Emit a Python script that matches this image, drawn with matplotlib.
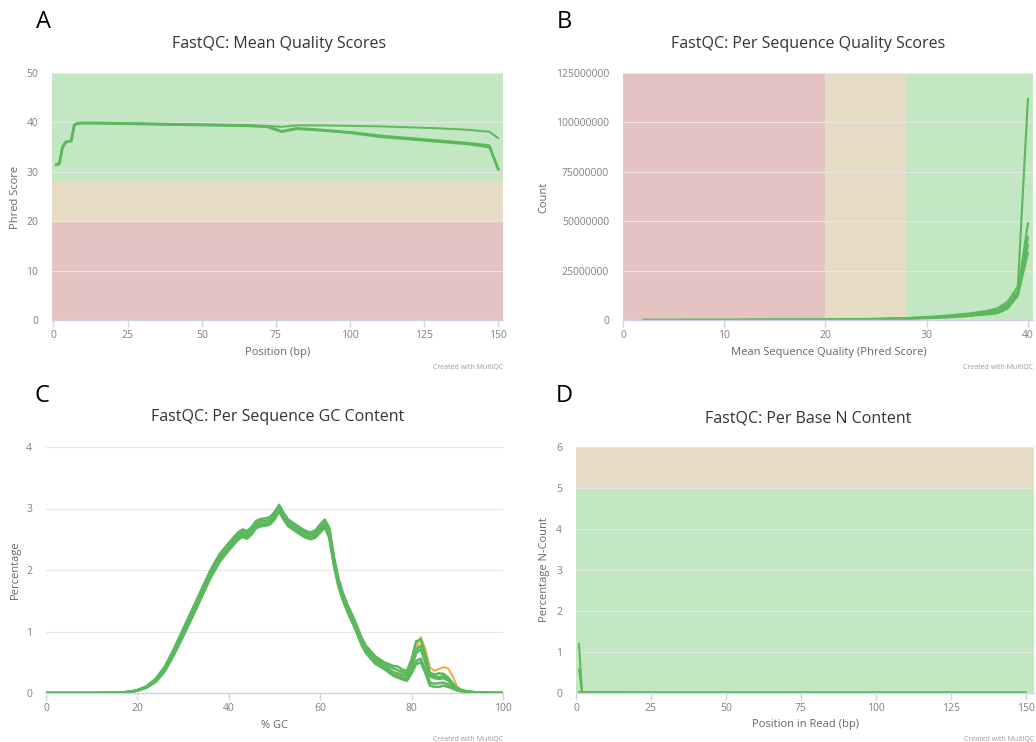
import matplotlib
matplotlib.use("Agg")
import matplotlib.pyplot as plt

plt.rcParams['font.family'] = ['Open Sans', 'DejaVu Sans']

W, H = 1036, 742

# status colours used by MultiQC
GREEN_BAND = '#c3e6c3'
AMBER_BAND = '#e6dcc3'
RED_BAND = '#e6c3c3'
PASS = '#5cb85c'
WARN = '#f0ad4e'

# A: mean quality per position
qpos = [1, 2, 3, 4, 5, 6, 7, 8, 9, 10, 15, 25, 35, 45, 55, 65, 72, 77, 82, 90, 100, 110, 120, 130, 140, 147, 150]
qual_r1a = [31.5, 31.7, 35.0, 36.0, 36.2, 36.3, 39.5, 39.8, 39.9, 39.9, 39.9, 39.8, 39.7, 39.6, 39.5, 39.4, 39.2, 38.2, 38.8, 38.5, 38.0, 37.3, 36.8, 36.3, 35.8, 35.3, 30.5]
qual_r1b = [31.4, 31.6, 34.8, 35.9, 36.1, 36.2, 39.4, 39.7, 39.8, 39.8, 39.8, 39.7, 39.6, 39.5, 39.4, 39.3, 39.1, 38.1, 38.7, 38.4, 37.9, 37.1, 36.6, 36.1, 35.6, 35.0, 30.6]
qual_r2 = [31.5, 31.7, 35.0, 36.0, 36.2, 36.3, 39.5, 39.8, 39.9, 39.9, 39.9, 39.8, 39.7, 39.6, 39.5, 39.4, 39.3, 39.1, 39.4, 39.4, 39.3, 39.2, 39.0, 38.8, 38.5, 38.1, 36.8]

# B: per sequence quality (counts)
sq = [2, 10, 20, 25, 28, 30, 32, 34, 35, 36, 37, 38, 39, 40]
seq_counts = [
    [2e4, 5e4, 2e5, 6e5, 1.0e6, 1.5e6, 2.2e6, 3.2e6, 3.9e6, 4.7e6, 5.9e6, 9.3e6, 16.9e6, 112e6],
    [2e4, 5e4, 2e5, 5e5, 0.9e6, 1.3e6, 1.9e6, 2.8e6, 3.4e6, 4.1e6, 5.2e6, 8.2e6, 14.5e6, 49e6],
    [2e4, 5e4, 2e5, 4.5e5, 0.8e6, 1.2e6, 1.7e6, 2.5e6, 3.0e6, 3.6e6, 4.5e6, 7.2e6, 13.5e6, 42e6],
    [2e4, 4e4, 1.8e5, 4e5, 0.7e6, 1.1e6, 1.5e6, 2.2e6, 2.7e6, 3.2e6, 4.0e6, 6.4e6, 12.8e6, 38e6],
    [2e4, 4e4, 1.6e5, 3.5e5, 0.6e6, 0.9e6, 1.3e6, 1.9e6, 2.4e6, 2.8e6, 3.4e6, 5.8e6, 12.2e6, 34e6],
]

# C: per sequence GC content
gc = [0, 5, 10, 15, 17, 19, 20, 22, 24, 26, 28, 30, 32, 34, 36, 38, 40, 42, 43, 44, 45, 46, 47, 48, 49, 50,
      51, 52, 53, 54, 55, 56, 57, 58, 59, 60, 61, 62, 63, 64, 65, 66, 67, 68, 69, 70, 72, 74,
      76, 77, 78, 79, 80, 81, 82, 83, 84, 85, 86, 87, 88, 89, 90, 91, 92, 94, 96, 100]
gc_warn = [0, 0, 0, 0.002, 0.008, 0.026, 0.04, 0.088, 0.19, 0.37, 0.64, 0.95, 1.26, 1.58, 1.9, 2.16, 2.35, 2.52, 2.57, 2.54, 2.61, 2.71, 2.74, 2.75, 2.77, 2.85,
           2.98, 2.85, 2.74, 2.69, 2.64, 2.59, 2.55, 2.53, 2.57, 2.65, 2.72, 2.56, 2.11, 1.77, 1.54, 1.35, 1.19, 1.02, 0.83, 0.69, 0.52, 0.43,
           0.33, 0.33, 0.31, 0.3, 0.42, 0.72, 0.91, 0.72, 0.42, 0.36, 0.39, 0.42, 0.4, 0.27, 0.1, 0.05, 0.03, 0.01, 0.004, 0]
gc_pass = [
    [0, 0, 0, 0.003, 0.01, 0.03, 0.048, 0.11, 0.23, 0.43, 0.72, 1.04, 1.36, 1.68, 2.0, 2.26, 2.44, 2.61, 2.66, 2.63, 2.7, 2.8, 2.83, 2.84, 2.86, 2.94,
     3.06, 2.93, 2.82, 2.77, 2.72, 2.67, 2.63, 2.61, 2.65, 2.74, 2.82, 2.68, 2.22, 1.86, 1.62, 1.43, 1.27, 1.1, 0.91, 0.77, 0.6, 0.5,
     0.44, 0.43, 0.38, 0.36, 0.55, 0.84, 0.87, 0.62, 0.33, 0.3, 0.32, 0.31, 0.25, 0.16, 0.08, 0.045, 0.028, 0.012, 0.005, 0],
    [0, 0, 0, 0.003, 0.01, 0.03, 0.046, 0.1, 0.22, 0.41, 0.69, 1.0, 1.32, 1.64, 1.96, 2.22, 2.4, 2.57, 2.62, 2.59, 2.66, 2.76, 2.79, 2.8, 2.82, 2.9,
     3.03, 2.9, 2.79, 2.74, 2.69, 2.64, 2.6, 2.58, 2.62, 2.7, 2.78, 2.63, 2.18, 1.82, 1.59, 1.4, 1.24, 1.07, 0.88, 0.74, 0.57, 0.47,
     0.4, 0.37, 0.34, 0.32, 0.46, 0.7, 0.77, 0.56, 0.3, 0.27, 0.26, 0.27, 0.22, 0.14, 0.07, 0.04, 0.025, 0.01, 0.004, 0],
    [0, 0, 0, 0.003, 0.01, 0.028, 0.043, 0.095, 0.2, 0.39, 0.66, 0.97, 1.28, 1.6, 1.92, 2.17, 2.36, 2.53, 2.58, 2.55, 2.62, 2.72, 2.75, 2.76, 2.78, 2.86,
     3.0, 2.86, 2.75, 2.7, 2.65, 2.6, 2.56, 2.54, 2.58, 2.66, 2.74, 2.57, 2.12, 1.78, 1.55, 1.36, 1.2, 1.03, 0.84, 0.7, 0.53, 0.44,
     0.34, 0.31, 0.29, 0.28, 0.42, 0.65, 0.71, 0.5, 0.27, 0.24, 0.23, 0.24, 0.2, 0.13, 0.06, 0.035, 0.022, 0.009, 0.004, 0],
    [0, 0, 0, 0.002, 0.008, 0.026, 0.04, 0.09, 0.19, 0.37, 0.64, 0.94, 1.25, 1.57, 1.89, 2.15, 2.34, 2.51, 2.56, 2.53, 2.6, 2.7, 2.73, 2.74, 2.76, 2.84,
     2.97, 2.84, 2.73, 2.68, 2.63, 2.58, 2.54, 2.52, 2.55, 2.63, 2.71, 2.54, 2.09, 1.75, 1.52, 1.33, 1.17, 1.0, 0.81, 0.67, 0.5, 0.41,
     0.3, 0.27, 0.25, 0.23, 0.36, 0.52, 0.56, 0.38, 0.17, 0.15, 0.16, 0.17, 0.14, 0.09, 0.05, 0.03, 0.02, 0.008, 0.003, 0],
    [0, 0, 0, 0.002, 0.008, 0.025, 0.038, 0.085, 0.18, 0.35, 0.62, 0.92, 1.23, 1.55, 1.87, 2.13, 2.32, 2.49, 2.54, 2.51, 2.58, 2.68, 2.71, 2.72, 2.74, 2.82,
     2.95, 2.82, 2.71, 2.66, 2.61, 2.56, 2.52, 2.5, 2.53, 2.61, 2.69, 2.52, 2.07, 1.73, 1.5, 1.31, 1.15, 0.98, 0.79, 0.65, 0.48, 0.39,
     0.28, 0.25, 0.22, 0.2, 0.32, 0.47, 0.5, 0.33, 0.12, 0.1, 0.1, 0.12, 0.1, 0.07, 0.04, 0.025, 0.018, 0.007, 0.003, 0],
]

# D: per base N content
npos = [1, 2, 3, 4, 5, 10, 25, 50, 75, 100, 125, 150]
n_hi = [1.2, 0.03, 0.02, 0.02, 0.02, 0.02, 0.01, 0.01, 0.01, 0.01, 0.01, 0.01]
n_lo = [0.57, 0.03, 0.02, 0.02, 0.02, 0.02, 0.01, 0.01, 0.01, 0.01, 0.01, 0.01]
n_flat = [0.02, 0.02, 0.02, 0.01, 0.01, 0.01, 0.01, 0.01, 0.01, 0.01, 0.01, 0.01]

fig = plt.figure(figsize=(W / 100, H / 100), dpi=100)


def px_axes(x0, y0, x1, y1):
    return fig.add_axes([x0 / W, 1 - y1 / H, (x1 - x0) / W, (y1 - y0) / H])


def px_text(x, y, s, **kw):
    fig.text(x / W, 1 - y / H, s, **kw)


def style(ax, xticks, yticks):
    for s in ['top', 'right', 'left']:
        ax.spines[s].set_visible(False)
    ax.spines['bottom'].set_color('#ccd6eb')
    ax.spines['bottom'].set_linewidth(1)
    ax.set_xticks(xticks)
    ax.set_yticks(yticks)
    ax.tick_params(axis='x', length=5, width=1, color='#ccd6eb', labelsize=7.5, labelcolor='#808080', pad=2)
    ax.tick_params(axis='y', length=0, labelsize=7.5, labelcolor='#808080', pad=10)
    ax.grid(axis='y', color='#e6e6e6', linewidth=0.8)
    ax.set_axisbelow(True)
    ax.set_facecolor('white')


def labels(letter, lx, ly, title, tx, ty, xlab, xx, xy, ylab, yx, yy, credit_x, credit_y):
    px_text(lx, ly, letter, fontsize=17, color='black', ha='center', va='center')
    px_text(tx, ty, title, fontsize=11.5, color='#333333', ha='center', va='center')
    px_text(xx, xy, xlab, fontsize=8, color='#666666', ha='center', va='center')
    px_text(yx, yy, ylab, fontsize=8, color='#666666', ha='center', va='center', rotation=90)
    px_text(credit_x, credit_y, 'Created with MultiQC', fontsize=5, color='#999999', ha='right', va='center')


# A
ax = px_axes(52, 73, 503, 320)
ax.axhspan(28, 50, color=GREEN_BAND, zorder=0, lw=0)
ax.axhspan(20, 28, color=AMBER_BAND, zorder=0, lw=0)
ax.axhspan(0, 20, color=RED_BAND, zorder=0, lw=0)
ax.plot(qpos, qual_r2, color=PASS, lw=1.4, zorder=2)
ax.plot(qpos, qual_r1a, color=PASS, lw=1.8, zorder=2)
ax.plot(qpos, qual_r1b, color=PASS, lw=1.8, zorder=2)
ax.set_xlim(-0.5, 151.6)
ax.set_ylim(0, 50)
style(ax, [0, 25, 50, 75, 100, 125, 150], [0, 10, 20, 30, 40, 50])
labels('A', 43, 22, 'FastQC: Mean Quality Scores', 279, 44, 'Position (bp)', 278, 353,
       'Phred Score', 15, 197, 503, 367)

# B
ax = px_axes(623, 73, 1033, 320)
ax.axvspan(0, 20, color=RED_BAND, zorder=0, lw=0)
ax.axvspan(20, 28, color=AMBER_BAND, zorder=0, lw=0)
ax.axvspan(28, 40.5, color=GREEN_BAND, zorder=0, lw=0)
for counts in seq_counts:
    ax.plot(sq, counts, color=PASS, lw=1.5, zorder=2)
ax.set_xlim(0, 40.5)
ax.set_ylim(0, 125e6)
style(ax, [0, 10, 20, 30, 40], [0, 25e6, 50e6, 75e6, 100e6, 125e6])
ax.set_yticklabels(['0', '25000000', '50000000', '75000000', '100000000', '125000000'])
labels('B', 564, 22, 'FastQC: Per Sequence Quality Scores', 808, 44,
       'Mean Sequence Quality (Phred Score)', 829, 353, 'Count', 544, 197, 1033, 367)

# C
ax = px_axes(46, 447, 503, 693)
ax.plot(gc, gc_warn, color=WARN, lw=1.5, zorder=2)
for vals in gc_pass:
    ax.plot(gc, vals, color=PASS, lw=1.8, zorder=3)
ax.set_xlim(0, 100)
ax.set_ylim(0, 4)
style(ax, [0, 20, 40, 60, 80, 100], [0, 1, 2, 3, 4])
labels('C', 42, 396, 'FastQC: Per Sequence GC Content', 278, 417, '% GC', 274, 725,
       'Percentage', 15, 570, 503, 739)

# D
ax = px_axes(576, 447, 1034, 693)
ax.axhspan(0, 5, color=GREEN_BAND, zorder=0, lw=0)
ax.axhspan(5, 6, color=AMBER_BAND, zorder=0, lw=0)
ax.plot(npos, n_flat, color=PASS, lw=1.4, zorder=2)
ax.plot(npos, n_lo, color=PASS, lw=1.4, zorder=2)
ax.plot(npos, n_hi, color=PASS, lw=1.4, zorder=2)
ax.set_xlim(0, 152.8)
ax.set_ylim(0, 6)
style(ax, [0, 25, 50, 75, 100, 125, 150], [0, 1, 2, 3, 4, 5, 6])
labels('D', 564, 396, 'FastQC: Per Base N Content', 808, 418, 'Position in Read (bp)', 805, 725,
       'Percentage N-Count', 545, 570, 1034, 739)

fig.savefig('out.png', dpi=100)
